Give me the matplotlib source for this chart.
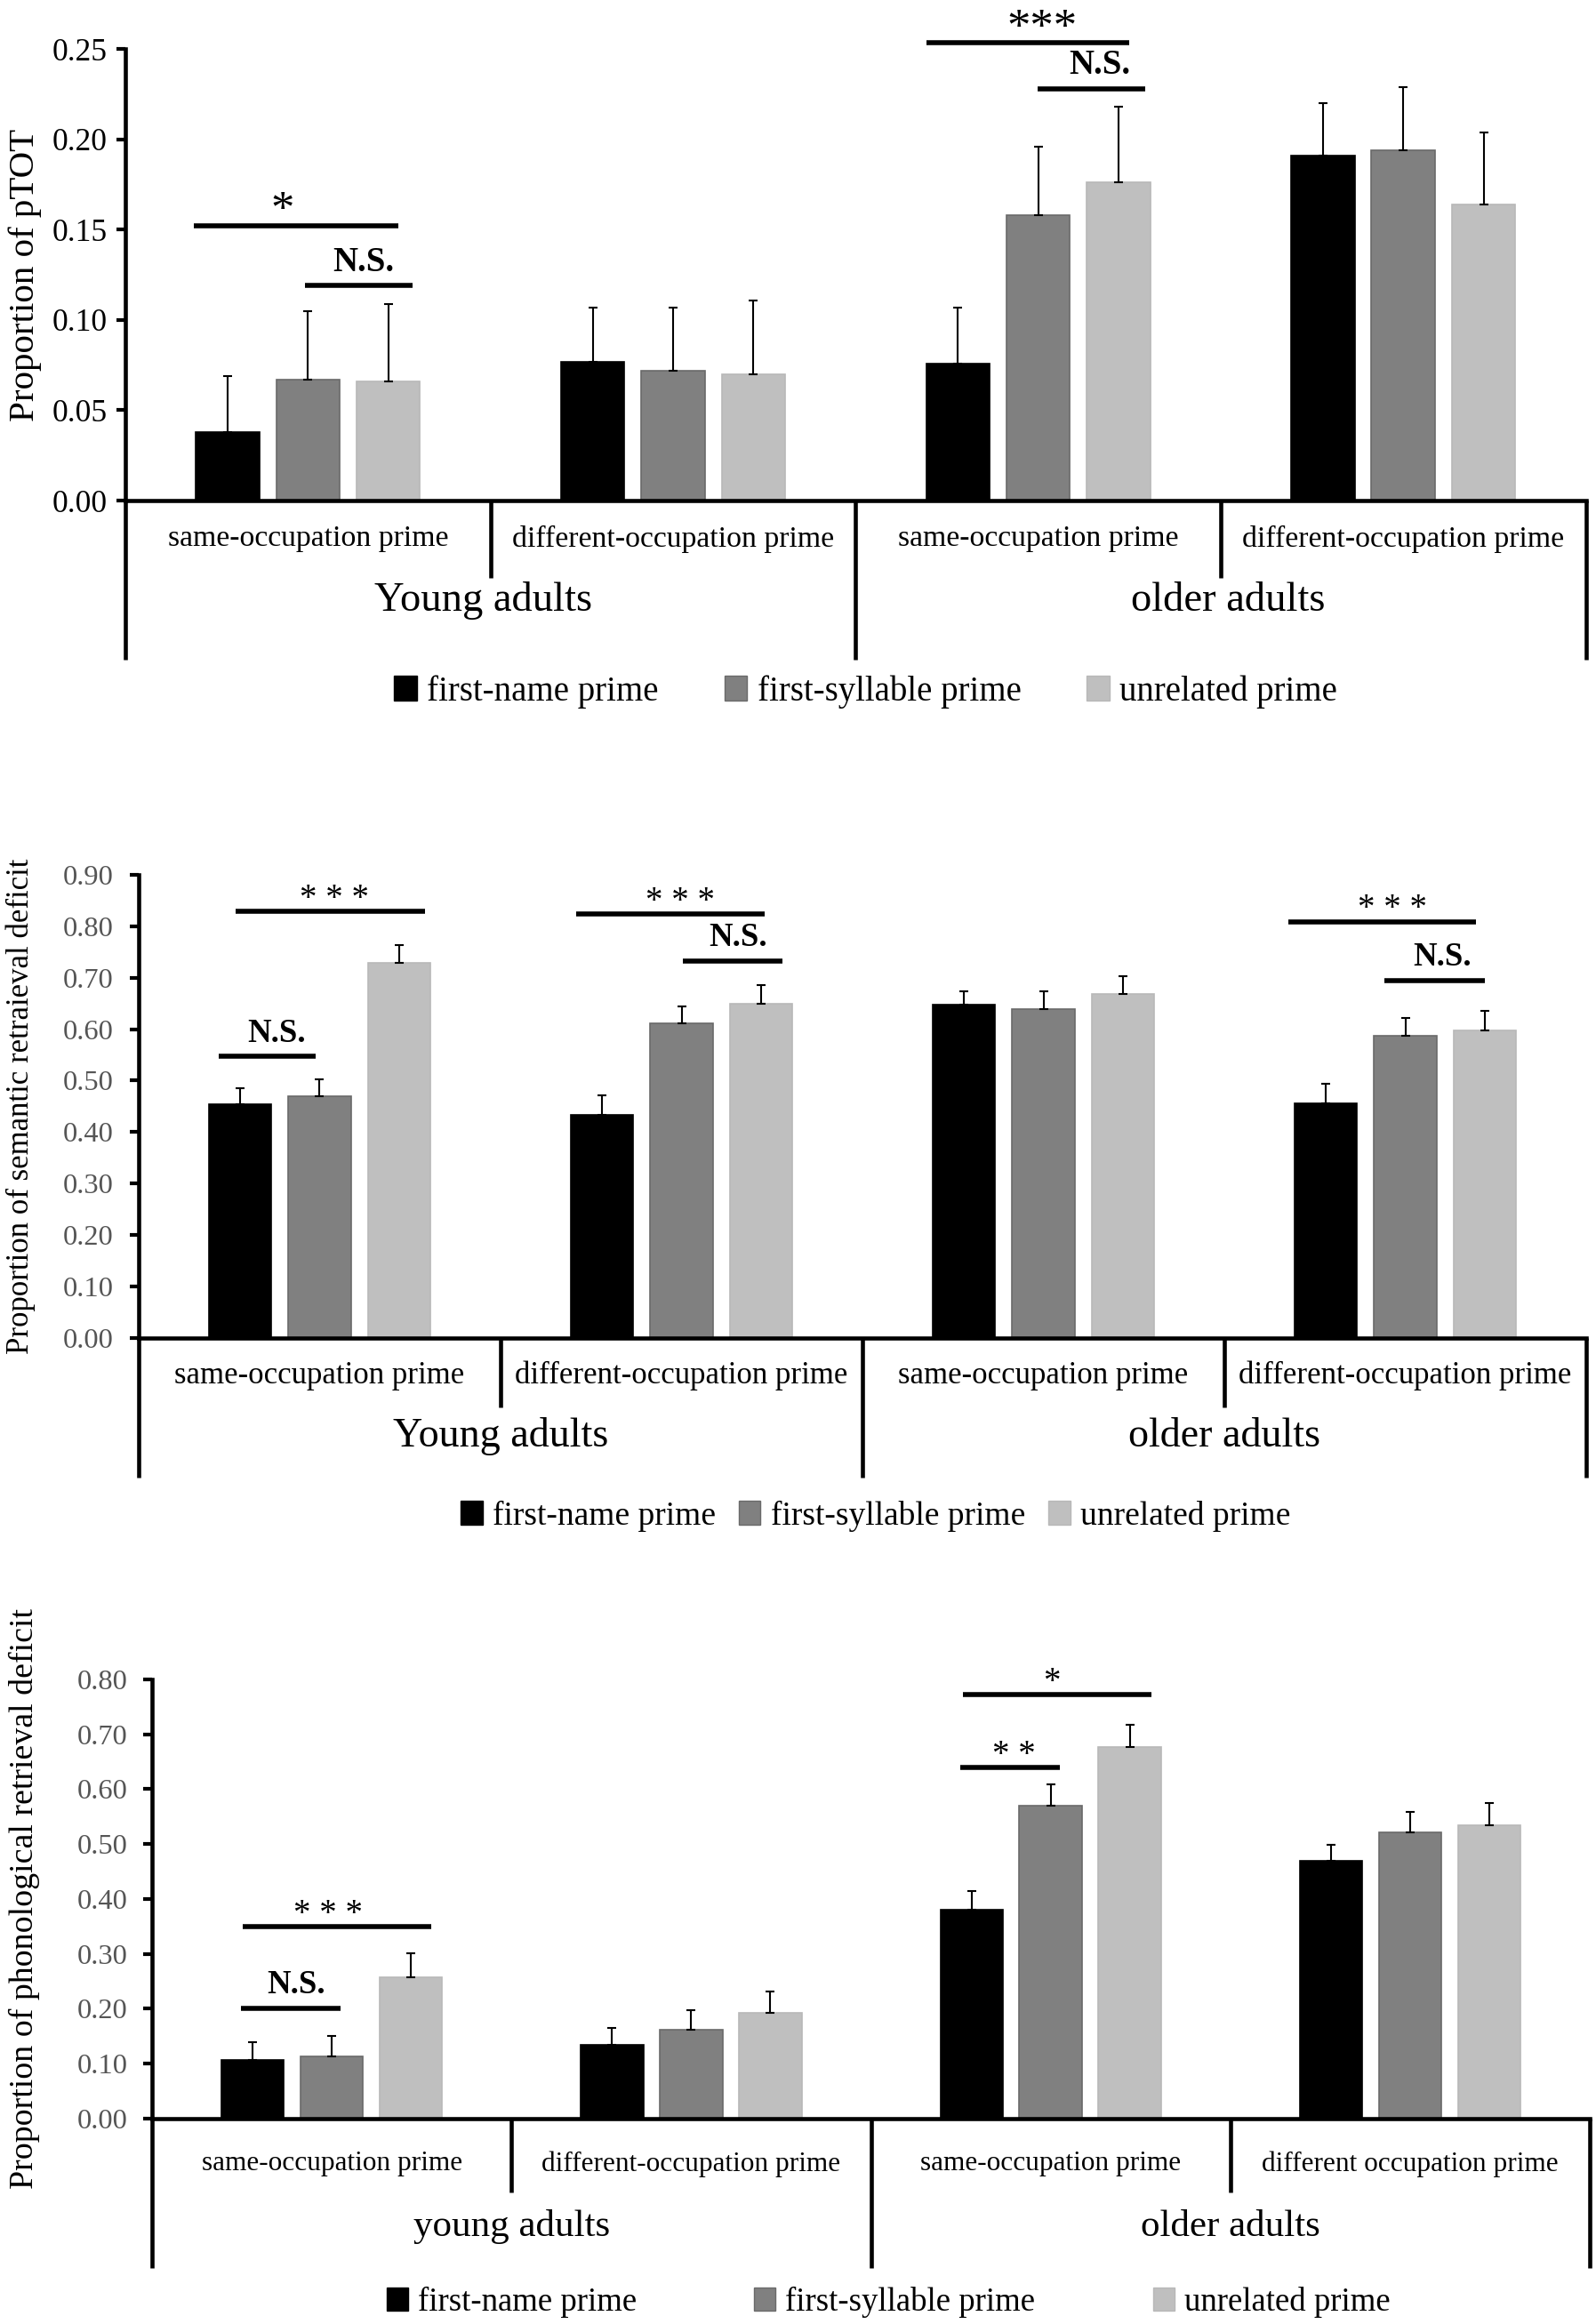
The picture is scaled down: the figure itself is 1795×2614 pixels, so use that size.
import matplotlib
matplotlib.use('Agg')
import matplotlib.pyplot as plt
from matplotlib.patches import Patch

plt.rcParams['font.family'] = ['Liberation Serif', 'DejaVu Serif']

# categories
series = ['first-name prime', 'first-syllable prime', 'unrelated prime']
occupations = ['same-occupation prime', 'different-occupation prime',
               'same-occupation prime', 'different-occupation prime']
occupations_c = ['same-occupation prime', 'different-occupation prime',
                 'same-occupation prime', 'different occupation prime']
ages_a = ['Young adults', 'older adults']
ages_c = ['young adults', 'older adults']

# panel A: proportion of pTOT (rows = series, cols = young same/diff, older same/diff)
ptot_mean = [[0.038, 0.077, 0.076, 0.191],
             [0.067, 0.072, 0.158, 0.194],
             [0.066, 0.070, 0.176, 0.164]]
ptot_err = [[0.031, 0.030, 0.031, 0.029],
            [0.038, 0.035, 0.038, 0.035],
            [0.043, 0.041, 0.042, 0.040]]

# panel B: semantic retrieval deficit
sem_mean = [[0.455, 0.433, 0.648, 0.456],
            [0.470, 0.611, 0.639, 0.587],
            [0.728, 0.650, 0.668, 0.598]]
sem_err = [[0.030, 0.038, 0.026, 0.038],
           [0.033, 0.034, 0.035, 0.034],
           [0.035, 0.035, 0.035, 0.037]]

# panel C: phonological retrieval deficit
pho_mean = [[0.106, 0.134, 0.381, 0.469],
            [0.113, 0.162, 0.570, 0.521],
            [0.258, 0.193, 0.676, 0.535]]
pho_err = [[0.033, 0.031, 0.034, 0.030],
           [0.038, 0.036, 0.038, 0.037],
           [0.043, 0.039, 0.041, 0.039]]

# significance brackets: (x start, x end, y, label, label x)
sig_a = [(0.187, 0.747, 0.152, '*', 0.43),
         (0.492, 0.786, 0.119, 'N.S.', 0.652),
         (2.193, 2.750, 0.2533, '***', 2.51),
         (2.499, 2.793, 0.228, 'N.S.', 2.669)]
sig_b = [(0.220, 0.490, 0.547, 'N.S.', 0.38),
         (0.268, 0.790, 0.829, '* * *', 0.54),
         (1.210, 1.730, 0.824, '* * *', 1.497),
         (1.504, 1.780, 0.733, 'N.S.', 1.657),
         (3.176, 3.696, 0.809, '* * *', 3.465),
         (3.443, 3.720, 0.695, 'N.S.', 3.602)]
sig_c = [(0.247, 0.525, 0.201, 'N.S.', 0.40),
         (0.252, 0.777, 0.350, '* * *', 0.49),
         (2.249, 2.526, 0.640, '* *', 2.397),
         (2.256, 2.780, 0.772, '*', 2.503)]

bar_colors = ['#000000', '#808080', '#bfbfbf']
edge_colors = ['#000000', '#6a6a6a', '#b8b8b8']

fig = plt.figure(figsize=(17.95, 26.14), dpi=100)


def draw_panel(rect, means, errs, top, yticks, ylabel, occ, ages, sig, st):
    ax = fig.add_axes(rect)
    offs = [-0.22, 0.0, 0.22]
    for k in range(3):
        xs = [g + 0.5 + offs[k] for g in range(4)]
        ax.bar(xs, means[k], width=0.174, color=bar_colors[k],
               edgecolor=edge_colors[k], linewidth=1.2, zorder=2)
        ax.errorbar(xs, means[k], yerr=[[0] * 4, errs[k]], fmt='none',
                    ecolor='black', elinewidth=1.5, capsize=3.5,
                    capthick=1.5, zorder=3)
    ax.set_xlim(0, 4)
    ax.set_ylim(0, top)
    for s in ['top', 'right']:
        ax.spines[s].set_visible(False)
    ax.spines['left'].set_linewidth(3.3)
    ax.spines['bottom'].set_linewidth(3.3)
    ax.set_xticks([])
    ax.set_yticks(yticks)
    ax.set_yticklabels(['%.2f' % v for v in yticks])
    ax.tick_params(axis='y', direction='out', length=7, width=3,
                   labelsize=st['tick'], labelcolor=st['tickc'],
                   pad=st['tpad'])
    ax.set_ylabel(ylabel, fontsize=st['ylab'], labelpad=st['ylpad'])

    tr = ax.get_xaxis_transform()
    for x in [0, 2, 4]:
        ax.plot([x, x], [0, st['outer']], transform=tr, color='black',
                lw=3.3, clip_on=False, solid_capstyle='butt')
    for x in [1, 3]:
        ax.plot([x, x], [0, st['inner']], transform=tr, color='black',
                lw=3.3, clip_on=False, solid_capstyle='butt')
    for g in range(4):
        ax.text(g + 0.5, st['cat_y'], occ[g], transform=tr, ha='center',
                va='center', fontsize=st['cat'])
    for i in range(2):
        ax.text(2 * i + st['age_x'][i], st['age_y'], ages[i], transform=tr,
                ha='center', va='center', fontsize=st['age'])

    for x0, x1, y, lab, tx in sig:
        ax.plot([x0, x1], [y, y], color='black', lw=4, clip_on=False,
                solid_capstyle='butt', zorder=4)
        if lab == 'N.S.':
            ax.annotate(lab, xy=(tx, y), xytext=(0, st['ns_off']),
                        textcoords='offset points', ha='center',
                        va='baseline', fontsize=st['ns'], fontweight='bold',
                        annotation_clip=False)
        else:
            ax.annotate(lab, xy=(tx, y), xytext=(0, st['star_off']),
                        textcoords='offset points', ha='center',
                        va='baseline', fontsize=st['star'],
                        annotation_clip=False)

    handles = [Patch(facecolor=bar_colors[k], edgecolor=edge_colors[k])
               for k in range(3)]
    ax.legend(handles, series, loc='center',
              bbox_to_anchor=(st['leg_x'], st['leg_y']), ncol=3,
              frameon=False, fontsize=st['leg'], handlelength=0.65,
              handleheight=0.7, handletextpad=0.3,
              columnspacing=st['colsp'])
    return ax


style_a = dict(tick=25.5, tickc='black', tpad=8, ylab=29.5, ylpad=8,
               outer=-0.352, inner=-0.171, cat_y=-0.085, age_y=-0.222,
               age_x=[0.98, 1.02], cat=24.3, age=33.6, ns=28, ns_off=12,
               star=38, star_off=2, leg=28, leg_x=0.507, leg_y=-0.423,
               colsp=1.9)
style_b = dict(tick=23.4, tickc='#555555', tpad=13.5, ylab=25, ylpad=22,
               outer=-0.301, inner=-0.150, cat_y=-0.081, age_y=-0.213,
               age_x=[1.0, 1.0], cat=25.1, age=33.2, ns=26.5, ns_off=12,
               star=28, star_off=3, leg=27, leg_x=0.509, leg_y=-0.384,
               colsp=0.7)
style_c = dict(tick=23.4, tickc='#555555', tpad=12.5, ylab=27.3, ylpad=30,
               outer=-0.340, inner=-0.168, cat_y=-0.103, age_y=-0.247,
               age_x=[1.0, 1.0], cat=22.5, age=31, ns=26.5, ns_off=12,
               star=28, star_off=3, leg=26.5, leg_x=0.512, leg_y=-0.417,
               colsp=3.6)

draw_panel([0.0786, 0.7846, 0.9150, 0.1943], ptot_mean, ptot_err, 0.25,
           [0.0, 0.05, 0.10, 0.15, 0.20, 0.25], 'Proportion of pTOT',
           occupations, ages_a, sig_a, style_a)
draw_panel([0.0869, 0.4243, 0.9070, 0.1993], sem_mean, sem_err, 0.90,
           [0.0, 0.1, 0.2, 0.3, 0.4, 0.5, 0.6, 0.7, 0.8, 0.9],
           'Proportion of semantic retraieval deficit',
           occupations, ages_a, sig_b, style_b)
draw_panel([0.0953, 0.0884, 0.9008, 0.1890], pho_mean, pho_err, 0.80,
           [0.0, 0.1, 0.2, 0.3, 0.4, 0.5, 0.6, 0.7, 0.8],
           'Proportion of phonological retrieval deficit',
           occupations_c, ages_c, sig_c, style_c)

fig.savefig('out.png', dpi=100)
